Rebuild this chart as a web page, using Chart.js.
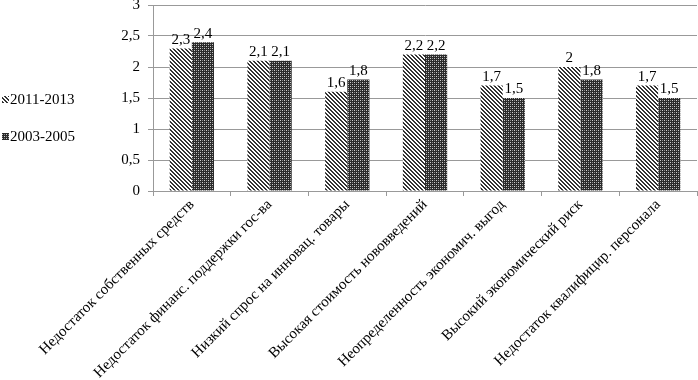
<!DOCTYPE html>
<html>
<head>
<meta charset="utf-8">
<script src="https://cdn.jsdelivr.net/npm/chart.js@4.4.1/dist/chart.umd.min.js"></script>
<style>
  html, body { margin: 0; padding: 0; background: #fff; }
  #wrap { width: 698px; height: 380px; position: relative; }
</style>
</head>
<body>
<div id="wrap"><canvas id="barChart"></canvas></div>
<script>
// categories and values
const categories = [
    "Недостаток собственных средств",
    "Недостаток финанс. поддержки гос-ва",
    "Низкий спрос на инновац. товары",
    "Высокая стоимость нововведений",
    "Неопределенность экономич. выгод",
    "Высокий экономический риск",
    "Недостаток квалифицир. персонала"
];
const seriesNames = ["2011-2013", "2003-2005"];
const values2011 = [2.3, 2.1, 1.6, 2.2, 1.7, 2.0, 1.7];
const values2003 = [2.4, 2.1, 1.8, 2.2, 1.5, 1.8, 1.5];
const yTicks = [0, 0.5, 1, 1.5, 2, 2.5, 3];

const FONT = "'Liberation Serif', 'Times New Roman', serif";
const fmt = v => String(v).replace('.', ',');

function makePattern(draw, size) {
    const c = document.createElement('canvas');
    c.width = size; c.height = size;
    const g = c.getContext('2d');
    draw(g);
    return c;
}

// light diagonal hatch
const hatchCanvas = makePattern(g => {
    g.fillStyle = '#ffffff';
    g.fillRect(0, 0, 4, 4);
    g.fillStyle = '#333333';
    for (let i = 0; i < 4; i++) {
        g.fillRect(i, i, 1, 1);
        g.fillRect((i + 1) % 4, i, 1, 1);
    }
}, 4);

// dark dotted texture
const dotsCanvas = makePattern(g => {
    g.fillStyle = '#2a2a2a';
    g.fillRect(0, 0, 4, 4);
    g.fillStyle = '#d0d0d0';
    g.fillRect(0, 0, 1, 1);
    g.fillRect(2, 2, 1, 1);
    g.fillStyle = '#8a8a8a';
    g.fillRect(2, 0, 1, 1);
    g.fillRect(0, 2, 1, 1);
}, 4);

const ctx = document.getElementById('barChart').getContext('2d');
const hatch = ctx.createPattern(hatchCanvas, 'repeat');
const dots = ctx.createPattern(dotsCanvas, 'repeat');

// values over bars
const valueLabels = {
    id: 'valueLabels',
    afterDatasetsDraw(chart) {
        const c = chart.ctx;
        c.save();
        c.font = '15px ' + FONT;
        c.fillStyle = '#000';
        c.textAlign = 'center';
        c.textBaseline = 'bottom';
        chart.data.datasets.forEach((ds, i) => {
            chart.getDatasetMeta(i).data.forEach((bar, j) => {
                c.fillText(fmt(ds.data[j]), bar.x, bar.y - 1);
            });
        });
        c.restore();
    }
};

// legend on the left side
const sideLegend = {
    id: 'sideLegend',
    afterDraw(chart) {
        const c = chart.ctx;
        const fills = [hatch, dots];
        const rows = [100, 137];
        c.save();
        c.font = '15px ' + FONT;
        c.textBaseline = 'middle';
        c.textAlign = 'left';
        seriesNames.forEach((name, i) => {
            c.fillStyle = fills[i];
            c.fillRect(2, rows[i] - 4, 7, 7);
            c.fillStyle = '#000';
            c.fillText(name, 10, rows[i]);
        });
        c.restore();
    }
};

new Chart(ctx, {
    type: 'bar',
    data: {
        labels: categories,
        datasets: [
            { label: seriesNames[0], data: values2011, backgroundColor: hatch, borderWidth: 0 },
            { label: seriesNames[1], data: values2003, backgroundColor: dots, borderWidth: 0 }
        ]
    },
    options: {
        responsive: true,
        maintainAspectRatio: false,
        animation: false,
        events: [],
        layout: { padding: { left: 80, right: 1, top: 5, bottom: 0 } },
        datasets: { bar: { categoryPercentage: 0.57, barPercentage: 1.0 } },
        plugins: { legend: { display: false }, tooltip: { enabled: false } },
        scales: {
            x: {
                afterFit: s => { s.height = 189; s.paddingLeft = 0; s.paddingRight = 0; },
                grid: { display: true, drawOnChartArea: false, offset: true, tickLength: 5, color: '#999' },
                border: { color: '#999' },
                ticks: {
                    minRotation: 45, maxRotation: 45, autoSkip: false,
                    color: '#000', font: { family: FONT, size: 15 }, padding: 0
                }
            },
            y: {
                min: 0, max: 3,
                afterFit: s => { s.width = 73; s.paddingTop = 0; s.paddingBottom = 0; },
                afterBuildTicks: s => { s.ticks = yTicks.map(v => ({ value: v })); },
                grid: { color: '#999', tickLength: 5 },
                border: { color: '#999' },
                ticks: {
                    color: '#000', font: { family: FONT, size: 15 }, padding: 8,
                    callback: v => fmt(v)
                }
            }
        }
    },
    plugins: [valueLabels, sideLegend]
});
</script>
</body>
</html>
